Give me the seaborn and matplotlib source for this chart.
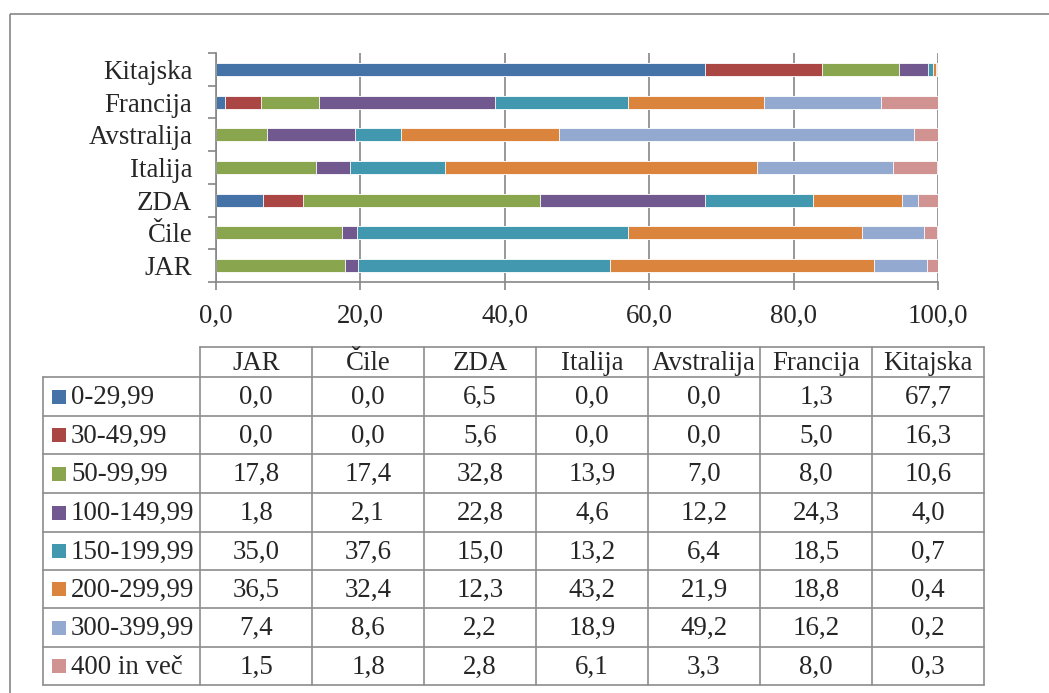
import numpy as np
import pandas as pd
import matplotlib
matplotlib.use("Agg")
import matplotlib.pyplot as plt
from matplotlib.patches import Rectangle
from matplotlib.ticker import FixedLocator
import seaborn as sns

# Share of wines (%) by price band for each country
countries = ["JAR", "Čile", "ZDA", "Italija", "Avstralija", "Francija", "Kitajska"]
price_bands = ["0-29,99", "30-49,99", "50-99,99", "100-149,99",
               "150-199,99", "200-299,99", "300-399,99", "400 in več"]
band_0_29 = [0.0, 0.0, 6.5, 0.0, 0.0, 1.3, 67.7]
band_30_49 = [0.0, 0.0, 5.6, 0.0, 0.0, 5.0, 16.3]
band_50_99 = [17.8, 17.4, 32.8, 13.9, 7.0, 8.0, 10.6]
band_100_149 = [1.8, 2.1, 22.8, 4.6, 12.2, 24.3, 4.0]
band_150_199 = [35.0, 37.6, 15.0, 13.2, 6.4, 18.5, 0.7]
band_200_299 = [36.5, 32.4, 12.3, 43.2, 21.9, 18.8, 0.4]
band_300_399 = [7.4, 8.6, 2.2, 18.9, 49.2, 16.2, 0.2]
band_400_up = [1.5, 1.8, 2.8, 6.1, 3.3, 8.0, 0.3]
x_ticks = [0, 20, 40, 60, 80, 100]

band_values = [band_0_29, band_30_49, band_50_99, band_100_149,
               band_150_199, band_200_299, band_300_399, band_400_up]
colors = ["#4572A7", "#AA4643", "#89A54E", "#71588F",
          "#4198AF", "#DB843D", "#93A9CF", "#D19392"]

def fmt(v):
    return f"{v:.1f}".replace(".", ",")

sns.set_theme(style="white")
plt.rcParams["font.family"] = ["Liberation Serif", "DejaVu Serif"]
FS = 19.4
GRID = "#868686"

W, H = 1049, 693
fig = plt.figure(figsize=(W / 100, H / 100), dpi=100)

# Background layer in pixel units: outer frame and data table
bg = fig.add_axes([0, 0, 1, 1])
bg.set_xlim(0, W)
bg.set_ylim(H, 0)
bg.axis("off")
bg.add_patch(Rectangle((10, 14), 1200, 900, fill=False, edgecolor=GRID, linewidth=1.2))

col_edges = [43, 200, 312, 424, 536, 648, 760, 872, 984]
row_edges = [347, 377, 416, 454, 493, 532, 570, 608, 647, 685]
lc = "#8c8c8c"
lw = 1.2
# horizontal lines
bg.plot([col_edges[1], col_edges[-1]], [row_edges[0]] * 2, color=lc, lw=lw)
for y in row_edges[1:]:
    bg.plot([col_edges[0], col_edges[-1]], [y, y], color=lc, lw=lw)
# vertical lines
bg.plot([col_edges[0]] * 2, [row_edges[1], row_edges[-1]], color=lc, lw=lw)
for x in col_edges[1:]:
    bg.plot([x, x], [row_edges[0], row_edges[-1]], color=lc, lw=lw)

for j, c in enumerate(countries):
    xc = (col_edges[j + 1] + col_edges[j + 2]) / 2
    bg.text(xc, (row_edges[0] + row_edges[1]) / 2 + 1, c, ha="center", va="center", fontsize=FS)
for i, (band, vals) in enumerate(zip(price_bands, band_values)):
    yc = (row_edges[i + 1] + row_edges[i + 2]) / 2 + 1
    bg.add_patch(Rectangle((52, yc - 8), 14, 14, facecolor=colors[i], edgecolor="none"))
    bg.text(71, yc, band, ha="left", va="center", fontsize=FS)
    for j, v in enumerate(vals):
        xc = (col_edges[j + 1] + col_edges[j + 2]) / 2
        bg.text(xc, yc, fmt(v), ha="center", va="center", fontsize=FS)

# Stacked horizontal bar chart
ax = fig.add_axes([216 / W, 1 - 282 / H, (938 - 216) / W, (282 - 53) / H])
ax.patch.set_alpha(0)
df = pd.DataFrame(dict(zip(price_bands, band_values)), index=countries)
cum = df.cumsum(axis=1)
order = countries[::-1]
for band, color in reversed(list(zip(price_bands, colors))):
    sns.barplot(x=cum[band].values, y=countries, order=order, orient="h",
                color=color, saturation=1, width=0.4, errorbar=None,
                edgecolor="white", linewidth=0.6, ax=ax)

ax.set_xlim(0, 100)
ax.set_ylim(6.5, -0.5)
ax.set_xlabel("")
ax.set_ylabel("")
ax.xaxis.set_major_locator(FixedLocator(x_ticks))
ax.set_xticklabels([fmt(t) for t in x_ticks], fontsize=FS)
ax.tick_params(axis="x", which="major", direction="out", length=6, width=1.2,
               color=GRID, pad=10, bottom=True)
ax.set_yticks(range(len(order)))
ax.set_yticklabels(order, fontsize=FS)
ax.yaxis.set_minor_locator(FixedLocator(np.arange(-0.5, 7, 1.0)))
ax.tick_params(axis="y", which="major", length=0, pad=17, left=False)
ax.tick_params(axis="y", which="minor", direction="out", length=6, width=1.2,
               color=GRID, left=True)
ax.grid(axis="x", color=GRID, linewidth=1.2)
ax.grid(axis="y", visible=False)
ax.set_axisbelow(True)
for s in ["top", "right"]:
    ax.spines[s].set_visible(False)
for s in ["left", "bottom"]:
    ax.spines[s].set_color(GRID)
    ax.spines[s].set_linewidth(1.2)

fig.savefig("out.png", dpi=100, facecolor="white")
